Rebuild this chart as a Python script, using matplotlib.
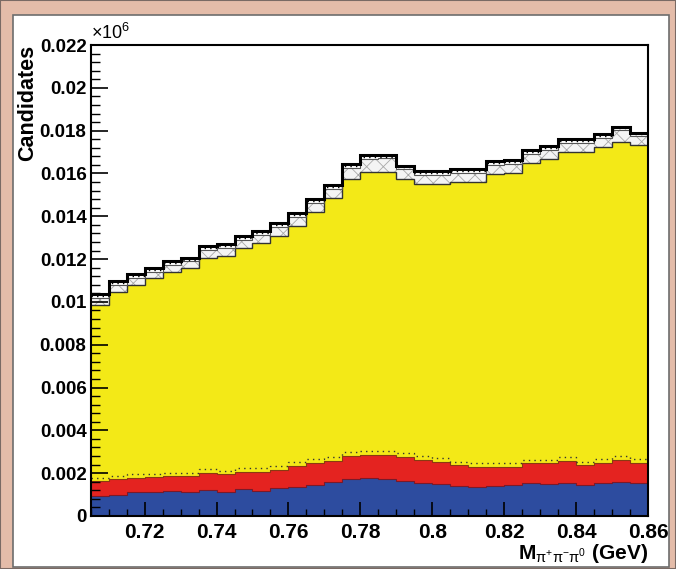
import numpy as np
import matplotlib.pyplot as plt
from matplotlib.patches import Rectangle
from matplotlib.ticker import MultipleLocator, FixedLocator, FixedFormatter

plt.rcParams['font.family'] = ['Liberation Sans', 'DejaVu Sans']
plt.rcParams['mathtext.fontset'] = 'custom'
plt.rcParams['mathtext.rm'] = 'Liberation Sans'
plt.rcParams['mathtext.it'] = 'Liberation Sans:italic'
plt.rcParams['mathtext.bf'] = 'Liberation Sans:bold'
plt.rcParams['hatch.linewidth'] = 0.6

# 31 bins of 5 MeV from 0.705 to 0.86 GeV
bin_edges = np.round(0.705 + 0.005 * np.arange(32), 3)

# stacked components (units of 10^6 candidates)
blue = np.array([0.00095, 0.00098, 0.00112, 0.00112, 0.00117, 0.00112, 0.00121, 0.00112,
                 0.00128, 0.00117, 0.00129, 0.00134, 0.00145, 0.00157, 0.00173, 0.00176,
                 0.00173, 0.00165, 0.00153, 0.00150, 0.00139, 0.00137, 0.00140, 0.00145,
                 0.00153, 0.00150, 0.00156, 0.00145, 0.00153, 0.00157, 0.00153])
red = np.array([0.00070, 0.00075, 0.00067, 0.00069, 0.00070, 0.00075, 0.00081, 0.00083,
                0.00079, 0.00090, 0.00087, 0.00100, 0.00101, 0.00101, 0.00107, 0.00109,
                0.00112, 0.00109, 0.00109, 0.00104, 0.00099, 0.00093, 0.00090, 0.00085,
                0.00093, 0.00096, 0.00102, 0.00093, 0.00096, 0.00105, 0.00096])
other = np.array([0.00014, 0.00014, 0.00015, 0.00015, 0.00015, 0.00015, 0.00016, 0.00016,
                  0.00016, 0.00016, 0.00017, 0.00017, 0.00018, 0.00018, 0.00020, 0.00020,
                  0.00020, 0.00019, 0.00018, 0.00017, 0.00016, 0.00016, 0.00016, 0.00016,
                  0.00017, 0.00017, 0.00018, 0.00016, 0.00017, 0.00019, 0.00017])
total = np.array([0.01036, 0.01098, 0.01129, 0.01160, 0.01190, 0.01207, 0.01262, 0.01271,
                  0.01308, 0.01329, 0.01368, 0.01416, 0.01480, 0.01544, 0.01643, 0.01686,
                  0.01688, 0.01637, 0.01611, 0.01611, 0.01620, 0.01620, 0.01656, 0.01664,
                  0.01710, 0.01726, 0.01760, 0.01760, 0.01785, 0.01819, 0.01791])
# systematic band below the total
band = np.array([0.00050, 0.00050, 0.00050, 0.00050, 0.00050, 0.00050, 0.00055, 0.00055,
                 0.00055, 0.00055, 0.00060, 0.00060, 0.00060, 0.00060, 0.00070, 0.00080,
                 0.00080, 0.00065, 0.00060, 0.00060, 0.00060, 0.00060, 0.00060, 0.00060,
                 0.00060, 0.00060, 0.00060, 0.00060, 0.00060, 0.00070, 0.00060])

y_ticks = [0, 0.002, 0.004, 0.006, 0.008, 0.01, 0.012, 0.014, 0.016, 0.018, 0.02, 0.022]
x_ticks = [0.72, 0.74, 0.76, 0.78, 0.8, 0.82, 0.84, 0.86]

BLUE = '#2d4c9f'
RED = '#e42320'
YELLOW = '#f3e917'
PINK = '#e4bca9'

fig = plt.figure(figsize=(6.76, 5.69), dpi=100, facecolor=PINK)
fig.patches.append(Rectangle((13 / 676, 2 / 569), 656 / 676, 552 / 569,
                             transform=fig.transFigure, facecolor='white',
                             edgecolor='#6d6d6d', lw=1.2, zorder=-2))
fig.patches.append(Rectangle((0, 0), 1, 1, transform=fig.transFigure, fill=False,
                             edgecolor='#7a6a64', lw=1.5, zorder=-1))

ax = fig.add_axes([90.7 / 676, 53 / 569, 557.3 / 676, 471 / 569])
ax.set_facecolor('none')

red_top = blue + red
other_top = red_top + other
yellow_top = total - band
hatch_top = total - 0.00018

ax.stairs(blue, bin_edges, baseline=0, fill=True, color=BLUE)
ax.stairs(red_top, bin_edges, baseline=blue, fill=True, color=RED)
ax.stairs(yellow_top, bin_edges, baseline=red_top, fill=True, color=YELLOW)
ax.stairs(hatch_top, bin_edges, baseline=yellow_top, fill=True, facecolor='#f4f4f4',
          edgecolor='#a8a8a8', hatch='xx', lw=0)

ax.stairs(blue, bin_edges, baseline=None, color='#7a1a2a', lw=0.8)
ax.stairs(red_top, bin_edges, baseline=None, color='#8a3a10', lw=0.8)
ax.stairs(other_top, bin_edges, baseline=None, color='#333333', lw=1.0, ls=(0, (1, 3)))
ax.stairs(yellow_top, bin_edges, baseline=None, color='#333333', lw=1.0)
ax.stairs(hatch_top, bin_edges, baseline=None, color='#555555', lw=0.8)
ax.stairs(total - 0.00009, bin_edges, baseline=None, color='black', lw=1.0, ls=(0, (1, 3)))
ax.stairs(total, bin_edges, baseline=None, color='black', lw=2.2)

ax.set_xlim(0.705, 0.86)
ax.set_ylim(0, 0.022)

ax.yaxis.set_major_locator(FixedLocator(y_ticks))
ax.yaxis.set_major_formatter(FixedFormatter(['%g' % v for v in y_ticks]))
ax.yaxis.set_minor_locator(MultipleLocator(0.0004))
ax.xaxis.set_major_locator(FixedLocator(x_ticks))
ax.xaxis.set_major_formatter(FixedFormatter(['%g' % v for v in x_ticks]))
ax.xaxis.set_minor_locator(MultipleLocator(0.005))

ax.tick_params(axis='y', which='major', direction='in', length=12, width=1.2, pad=3)
ax.tick_params(axis='y', which='minor', direction='in', length=6.5, width=1.0)
ax.tick_params(axis='x', which='major', direction='in', length=10, width=1.2, pad=5)
ax.tick_params(axis='x', which='minor', direction='in', length=5, width=1.0)
for lab in ax.get_yticklabels():
    lab.set_fontsize(13.5)
    lab.set_fontweight('bold')
for lab in ax.get_xticklabels():
    lab.set_fontsize(15)
    lab.set_fontweight('bold')
for sp in ax.spines.values():
    sp.set_linewidth(1.5)

ax.set_ylabel('Candidates', loc='top', fontsize=15.5, fontweight='bold', labelpad=1)
ax.set_xlabel(r'$\mathbf{M}_{\mathrm{\pi^{+}\pi^{-}\pi^{0}}}$ (GeV)', loc='right',
              fontsize=15, fontweight='bold', labelpad=0)
ax.text(0, 1.004, r'$\times10^{6}$', transform=ax.transAxes, ha='left', va='bottom',
        fontsize=13)

fig.savefig('out.png', dpi=100, facecolor=PINK)
